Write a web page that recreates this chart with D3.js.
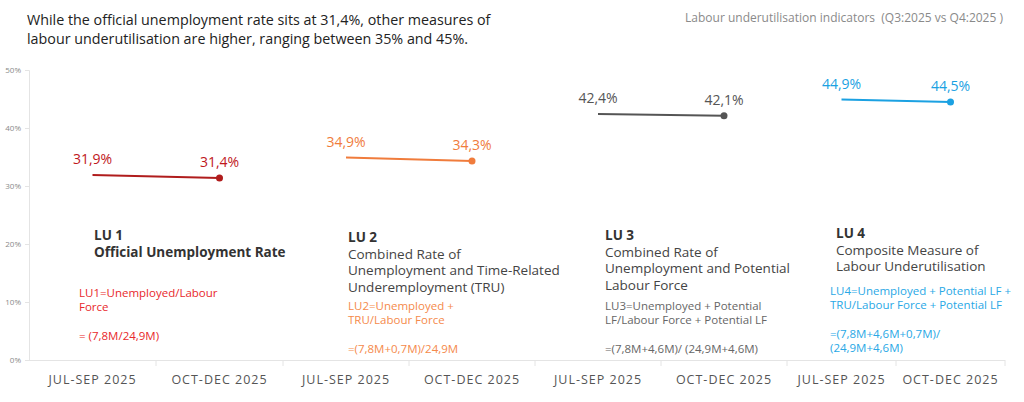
<!DOCTYPE html>
<html><head><meta charset="utf-8">
<script src="https://cdn.jsdelivr.net/npm/d3@7"></script>
<style>
body{margin:0;background:#fff;}
svg{display:block;}
text{font-family:"Open Sans","Noto Sans",sans-serif;}
</style></head>
<body><div id="chart"></div>
<script>
// ---- data ----
const categories = ["JUL-SEP 2025", "OCT-DEC 2025"];
const indicators = ["LU 1", "LU 2", "LU 3", "LU 4"];
const q3Values = [31.9, 34.9, 42.4, 44.9];
const q4Values = [31.4, 34.3, 42.1, 44.5];
const valueLabelsQ3 = ["31,9%", "34,9%", "42,4%", "44,9%"];
const valueLabelsQ4 = ["31,4%", "34,3%", "42,1%", "44,5%"];
const indicatorNames = [
  ["Official Unemployment Rate"],
  ["Combined Rate of", "Unemployment and Time-Related", "Underemployment (TRU)"],
  ["Combined Rate of", "Unemployment and Potential", "Labour Force"],
  ["Composite Measure of", "Labour Underutilisation"]
];
const formulas = [
  ["LU1=Unemployed/Labour", "Force", "", "= (7,8M/24,9M)"],
  ["LU2=Unemployed +", "TRU/Labour Force", "", "=(7,8M+0,7M)/24,9M"],
  ["LU3=Unemployed + Potential", "LF/Labour Force + Potential LF", "", "=(7,8M+4,6M)/ (24,9M+4,6M)"],
  ["LU4=Unemployed + Potential LF +", "TRU/Labour Force + Potential LF", "", "=(7,8M+4,6M+0,7M)/", "(24,9M+4,6M)"]
];
const yTicks = [0, 10, 20, 30, 40, 50];
const titleLines = ["While the official unemployment rate sits at 31,4%, other measures of",
                    "labour underutilisation are higher, ranging between 35% and 45%."];
const subTitle = "Labour underutilisation indicators  (Q3:2025 vs Q4:2025 )";

// ---- layout / style ----
const W = 1024, H = 402;
const colors = ["#b01c1c", "#f07c3c", "#555555", "#1ba1e2"];
const labelColors = ["#c0171c", "#f07c3c", "#555555", "#1ba1e2"];
const formulaColors = ["#e8282b", "#f58a4b", "#666666", "#29a8e6"];
const panelBounds = [29, 283, 535, 787, 1005];
const nameLayout = [
  {dx: 65, y: 240, bold: true},
  {dx: 65, y: 242, bold: false},
  {dx: 70, y: 240, bold: false},
  {dx: 49, y: 238, bold: false}
];
const formulaLayout = [
  {dx: 50, y: 297}, {dx: 65, y: 310}, {dx: 70, y: 310}, {dx: 43, y: 295}
];

const svg = d3.select("#chart").append("svg").attr("width", W).attr("height", H);

const y = d3.scaleLinear().domain([0, 50]).range([360, 70]);

// title
svg.append("g").selectAll("text").data(titleLines).join("text")
  .attr("x", 27).attr("y", (d, i) => 25 + i * 19)
  .attr("font-size", 14.3).attr("fill", "#222").text(d => d);
svg.append("text").attr("x", 1003).attr("y", 22).attr("text-anchor", "end")
  .style("white-space", "pre")
  .attr("font-size", 12).attr("fill", "#8a8a8a").text(subTitle);

// y axis
const yAxis = d3.axisLeft(y).tickValues(yTicks).tickFormat(d => d + "%").tickSize(4).tickPadding(4);
const gy = svg.append("g").attr("transform", "translate(29,0)").call(yAxis);
gy.select(".domain").attr("stroke", "#e4e4e4");
gy.selectAll(".tick line").attr("stroke", "#e4e4e4");
gy.selectAll(".tick text").attr("fill", "#8a8a8a").attr("font-size", 8)
  .attr("font-family", "'Open Sans',sans-serif");

// panels
indicators.forEach((ind, i) => {
  const x = d3.scaleBand().domain(categories).range([panelBounds[i], panelBounds[i + 1]]);
  const g = svg.append("g");
  const xAxis = d3.axisBottom(x).tickSize(0).tickPadding(0);
  const gx = g.append("g").attr("transform", "translate(0,360)").call(xAxis);
  gx.select(".domain").remove();
  gx.selectAll(".tick text").attr("y", 24).attr("dy", 0)
    .attr("fill", "#555").attr("font-size", 12.5).attr("letter-spacing", "1px")
    .attr("font-family", "'DejaVu Sans Condensed','DejaVu Sans',sans-serif");
  // baseline and separators
  g.append("line").attr("x1", x.range()[0]).attr("x2", x.range()[1])
    .attr("y1", 360.5).attr("y2", 360.5).attr("stroke", "#e4e4e4");
  const seps = [x(categories[1]), x.range()[1]];
  g.selectAll(".sep").data(seps).join("line").attr("class", "sep")
    .attr("x1", d => d).attr("x2", d => d).attr("y1", 360).attr("y2", 366)
    .attr("stroke", "#e4e4e4");

  const pts = [
    {c: categories[0], v: q3Values[i], lab: valueLabelsQ3[i]},
    {c: categories[1], v: q4Values[i], lab: valueLabelsQ4[i]}
  ];
  const cx = d => x(d.c) + x.bandwidth() / 2;
  g.append("path").datum(pts)
    .attr("d", d3.line().x(cx).y(d => y(d.v)))
    .attr("fill", "none").attr("stroke", colors[i]).attr("stroke-width", 2);
  g.append("circle").attr("cx", cx(pts[1])).attr("cy", y(pts[1].v)).attr("r", 3.5)
    .attr("fill", colors[i]);
  g.selectAll(".vl").data(pts).join("text").attr("class", "vl")
    .attr("x", cx).attr("y", d => y(d.v) - 11).attr("text-anchor", "middle")
    .attr("font-size", 14).attr("fill", labelColors[i]).text(d => d.lab);

  // indicator name
  const nl = nameLayout[i];
  const nx = panelBounds[i] + nl.dx;
  g.append("text").attr("x", nx).attr("y", nl.y).attr("font-size", 13.5)
    .attr("font-weight", "bold").attr("fill", "#333").text(ind);
  g.selectAll(".nm").data(indicatorNames[i]).join("text").attr("class", "nm")
    .attr("x", nx).attr("y", (d, k) => nl.y + 16.5 * (k + 1))
    .attr("font-size", 13.5).attr("font-weight", nl.bold ? "bold" : "normal")
    .attr("fill", nl.bold ? "#333" : "#444").text(d => d);

  // formula
  const fl = formulaLayout[i];
  g.selectAll(".fm").data(formulas[i]).join("text").attr("class", "fm")
    .attr("x", panelBounds[i] + fl.dx).attr("y", (d, k) => fl.y + 14.3 * k)
    .attr("font-size", 11.5).attr("fill", formulaColors[i]).text(d => d);
});
</script></body></html>
